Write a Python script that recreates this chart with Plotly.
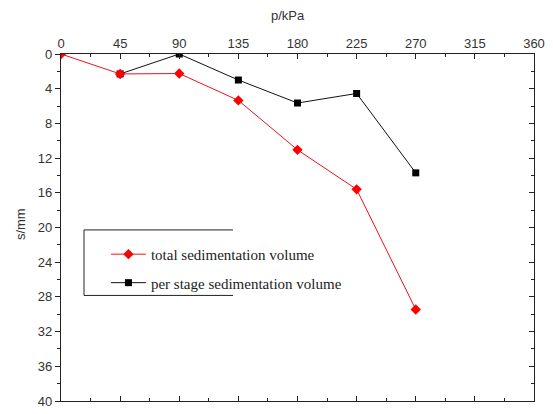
import plotly.graph_objects as go

# Load (kPa) and settlement (mm)
p_total = [0, 45, 90, 135, 180, 225, 270]
s_total = [0, 2.3, 2.25, 5.35, 11.05, 15.6, 29.45]

p_stage = [45, 90, 135, 180, 225, 270]
s_stage = [2.3, 0, 3.0, 5.65, 4.55, 13.7]

x_ticks = [0, 45, 90, 135, 180, 225, 270, 315, 360]
y_ticks = [0, 4, 8, 12, 16, 20, 24, 28, 32, 36, 40]

W, H = 553, 414
L, R, T, B = 61, 19, 54, 5

fig = go.Figure()

fig.add_trace(go.Scatter(
    x=p_stage, y=s_stage, mode="lines+markers",
    name="per stage sedimentation volume",
    line=dict(color="#111111", width=1),
    marker=dict(symbol="square", size=7, color="#000000"),
    legendrank=2, legendgroup="b",
))
fig.add_trace(go.Scatter(
    x=p_total, y=s_total, mode="lines+markers",
    name="total sedimentation volume",
    line=dict(color="#e8141e", width=1),
    marker=dict(symbol="diamond", size=8, color="#ff0000"),
    legendrank=1, legendgroup="a",
))

tickfont = dict(family="Liberation Sans, Arial, sans-serif", size=13, color="#333333")
axcol = "#222222"

fig.update_layout(
    width=W, height=H,
    margin=dict(l=L, r=R, t=T, b=B),
    paper_bgcolor="white", plot_bgcolor="white",
    showlegend=True,
    legend=dict(
        x=0.095, y=0.47, xanchor="left", yanchor="top",
        bgcolor="rgba(0,0,0,0)", borderwidth=0,
        font=dict(family="Liberation Serif, Times New Roman, serif", size=15, color="#222222"),
        tracegroupgap=6, itemwidth=35,
    ),
    xaxis=dict(
        side="top", range=[0, 360], tickvals=x_ticks,
        ticks="inside", ticklen=5, tickwidth=1, tickcolor=axcol,
        minor=dict(ticks="inside", ticklen=3, dtick=22.5, tick0=0, tickcolor=axcol),
        showline=True, linecolor=axcol, linewidth=1.2,
        showgrid=False, zeroline=False, tickfont=tickfont,
        ticklabeloverflow="allow",
    ),
    xaxis2=dict(
        overlaying="x", matches="x", side="bottom", range=[0, 360], tickvals=x_ticks,
        ticks="inside", ticklen=5, tickwidth=1, tickcolor=axcol,
        minor=dict(ticks="inside", ticklen=3, dtick=22.5, tick0=0, tickcolor=axcol),
        showline=True, linecolor=axcol, linewidth=1.2,
        showgrid=False, zeroline=False, showticklabels=False,
    ),
    yaxis=dict(
        range=[40, 0], tickvals=y_ticks,
        ticks="outside", ticklen=5, tickwidth=1, tickcolor=axcol,
        minor=dict(ticks="outside", ticklen=3, dtick=2, tick0=0, tickcolor=axcol),
        showline=True, linecolor=axcol, linewidth=1.2,
        showgrid=False, zeroline=False, tickfont=tickfont,
        ticklabeloverflow="allow",
    ),
    yaxis2=dict(
        overlaying="y", matches="y", side="right", range=[40, 0], tickvals=y_ticks,
        ticks="inside", ticklen=5, tickwidth=1, tickcolor=axcol,
        minor=dict(ticks="inside", ticklen=3, dtick=2, tick0=0, tickcolor=axcol),
        showline=True, linecolor=axcol, linewidth=1.2,
        showgrid=False, zeroline=False, showticklabels=False,
    ),
)

# invisible trace to bring the mirrored axes into existence
fig.add_trace(go.Scatter(x=[0], y=[0], xaxis="x2", yaxis="y2",
                         mode="markers", marker=dict(opacity=0), showlegend=False,
                         hoverinfo="skip"))


def px_x(v):
    return (v - L) / (W - L - R)


def px_y(v):
    return (H - B - v) / (H - T - B)


# axis titles
titlefont = dict(family="Liberation Sans, Arial, sans-serif", size=13, color="#333333")
fig.add_annotation(text="p/kPa", xref="paper", yref="paper", x=px_x(288), y=px_y(15),
                   showarrow=False, xanchor="center", yanchor="middle", font=titlefont)
fig.add_annotation(text="s/mm", xref="paper", yref="paper", x=px_x(20), y=px_y(228),
                   showarrow=False, textangle=-90, xanchor="center", yanchor="middle",
                   font=titlefont)

# open frame around the legend
frame = dict(xref="paper", yref="paper", type="line", line=dict(color="#222222", width=1))
fig.add_shape(x0=px_x(84), x1=px_x(233), y0=px_y(234), y1=px_y(234), **frame)
fig.add_shape(x0=px_x(84), x1=px_x(84), y0=px_y(234), y1=px_y(301), **frame)
fig.add_shape(x0=px_x(84), x1=px_x(233), y0=px_y(301), y1=px_y(301), **frame)

fig.write_html("out.html")
